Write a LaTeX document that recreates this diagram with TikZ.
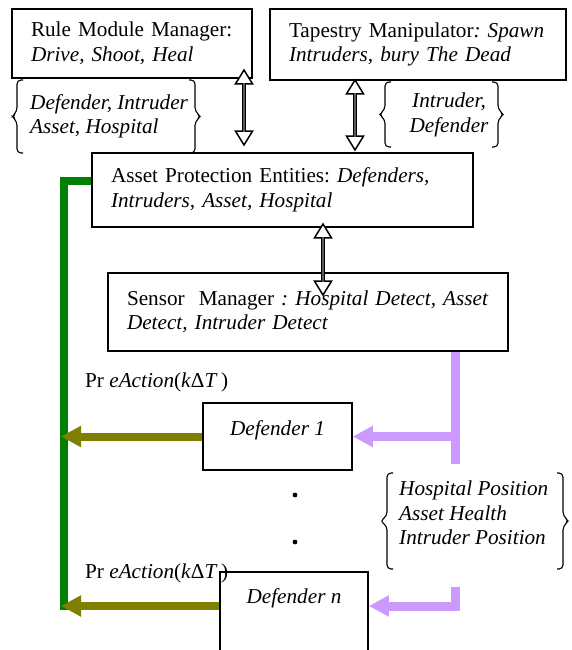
\documentclass[tikz,border=0pt]{standalone}
\usepackage{fontspec}
\setmainfont{Liberation Serif}
\usetikzlibrary{arrows.meta,shapes.arrows,positioning}
\definecolor{busgreen}{RGB}{0,128,0}
\definecolor{actionolive}{RGB}{128,128,0}
\definecolor{senselilac}{RGB}{204,153,255}
\frenchspacing

\begin{document}
\begin{tikzpicture}[x=1pt,y=-1pt,font=\fontsize{21.2}{24.5}\selectfont,
  module box/.style={draw,line width=1.6pt,inner xsep=19pt,inner ysep=0pt,align=left},
  tag/.style={inner sep=0pt},
  link arrow/.style={double arrow,draw,line width=1.5pt,fill=white,rotate=90,inner sep=0pt,minimum width=17pt,double arrow head extend=4.5pt,double arrow tip angle=63}]
\tikzstyle{brace line} = [draw,line width=1.1pt,rounded corners=4pt]
\tikzstyle{green bus} = [draw,line width=8pt,busgreen]
\tikzstyle{olive arrow} = [draw,line width=8pt,actionolive,-{Triangle[length=20pt,width=20pt]}]
\tikzstyle{sense line} = [draw,line width=9pt,senselilac]

\useasboundingbox (0,0) rectangle (572,650);
\clip (0,0) rectangle (572,650);

\node[module box,text width=202pt,minimum height=69pt] (rules) at (132,43.5) {Rule Module Manager:\\\textit{Drive, Shoot, Heal}};
\node[module box,text width=258pt,minimum height=71pt] (tapestry) at (418,44.5) {Tapestry Manipulator\textit{: Spawn}\\\textit{Intruders, bury The Dead}};
\node[module box,text width=343pt,minimum height=74pt] (entities) at (282.5,190) {Asset Protection Entities: \textit{Defenders,}\\\textit{Intruders, Asset, Hospital}};
\node[module box,text width=362pt,minimum height=78pt] (sensors) at (308,312) {Sensor\ \ Manager \textit{: Hospital Detect, Asset}\\\textit{Detect, Intruder Detect}};

\node[module box,minimum width=149pt,minimum height=67pt] (def1) at (277.5,436.5) {};
\node[tag,below=18pt of def1.north] (def1 name) {\textit{Defender 1}};
\node[module box,minimum width=148pt,minimum height=110pt] (defn) at (294,627) {};
\node[tag,below=17pt of defn.north] (defn name) {\textit{Defender n}};

% exchanged entities
\node[tag,align=left,anchor=west] (roster) at (30,116.5) {\textit{Defender, Intruder}\\\textit{Asset, Hospital}};
\path[brace line] (23,80) -- (17,80) -- (17,111.5) -- (12,116.5) -- (17,121.5) -- (17,153) -- (23,153);
\path[brace line] (189,80) -- (195,80) -- (195,111.5) -- (201,116.5) -- (195,121.5) -- (195,153) -- (189,153);

\node[tag,align=center] (spawned) at (449,115) {\textit{Intruder,}\\\textit{Defender}};
\path[brace line] (391,82) -- (385,82) -- (385,109.5) -- (379,114.5) -- (385,119.5) -- (385,147) -- (391,147);
\path[brace line] (492,82) -- (498,82) -- (498,109.5) -- (504,114.5) -- (498,119.5) -- (498,147) -- (492,147);

\node[tag,align=left,anchor=west] (readings) at (399,513) {\textit{Hospital Position}\\\textit{Asset Health}\\\textit{Intruder Position}};
\path[brace line] (393,473) -- (387,473) -- (387,516) -- (380,521) -- (387,526) -- (387,569) -- (393,569);
\path[brace line] (557,473) -- (563,473) -- (563,516) -- (569,521) -- (563,526) -- (563,569) -- (557,569);

\node[link arrow,minimum height=75pt] (rules link) at (244,107.5) {};
\node[link arrow,minimum height=70pt] (tapestry link) at (355,115) {};
\node[link arrow,minimum height=71pt] (sensor link) at (323,259.5) {};

% actions back to the entities
\coordinate (bus top) at (64,181);
\coordinate (bus end) at (64,610);
\coordinate (bus edge) at (61,0);
\coordinate (out n) at (455,606);
\draw[green bus] (entities.west |- bus top) -- (bus top) -- (bus end);
\draw[olive arrow] (def1.west) -- (def1.west -| bus edge);
\draw[olive arrow] (defn.west |- out n) -- (bus edge |- out n);
\node[tag,anchor=west] (action1) at (85,382) {Pr \textit{eAction}(\textit{k}Δ\textit{T}\,)};
\node[tag,anchor=west] (actionn) at (85,573) {Pr \textit{eAction}(\textit{k}Δ\textit{T}\,)};

% sensed data
\coordinate (sense tap) at (455,0);
\coordinate (sense end) at (455,464);
\coordinate (sense n) at (455,587);
\draw[sense line] (sensors.south -| sense tap) -- (sense end);
\draw[sense line,-{Triangle[length=20pt,width=20pt]}] (def1.east -| sense tap) -- (def1.east);
\draw[sense line,-{Triangle[length=20pt,width=20pt]}] (sense n) -- (out n) -- (defn.east |- out n);

\node[circle,fill,inner sep=1.7pt] (dot1) at (295,495) {};
\node[circle,fill,inner sep=1.7pt] (dot2) at (295,542) {};

\end{tikzpicture}
\end{document}
